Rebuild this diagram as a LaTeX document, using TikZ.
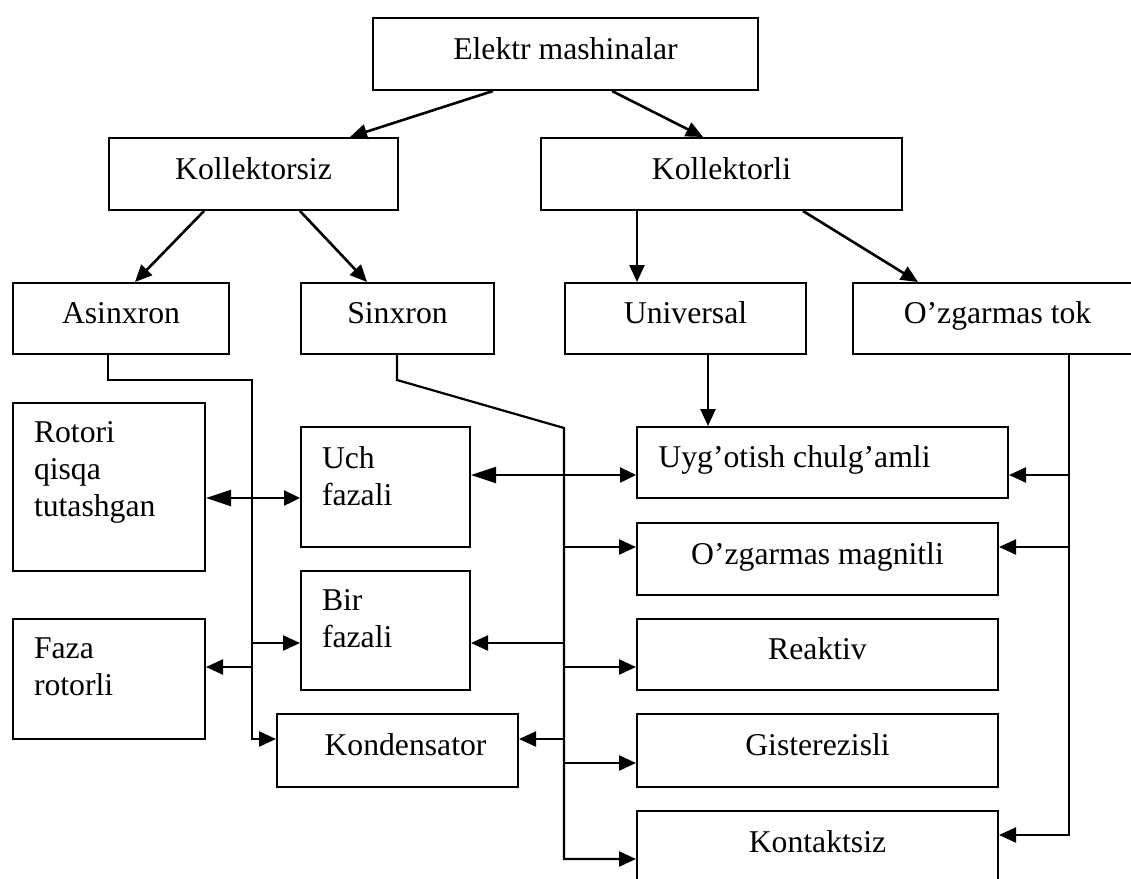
\documentclass[tikz,border=0pt]{standalone}
\usepackage{fontspec}
\setmainfont{Liberation Serif}
\usetikzlibrary{arrows.meta}
\tikzset{
  box/.style={draw, line width=2pt, inner sep=0pt, anchor=north west, text height=21pt, text depth=11pt},
  tallbox/.style={draw, line width=2pt, inner xsep=21pt, inner ysep=19pt, anchor=north west},
  wire/.style={line width=2.2pt},
  fork/.style={line width=2.6pt, ->},
  twoway/.style={line width=2.4pt, {Triangle[length=25pt,width=16pt]}-{Triangle[length=16pt,width=15pt]}}
}

\begin{document}
\begin{tikzpicture}[x=1pt, y=-1pt, >={Triangle[length=17pt,width=15pt]}, font=\fontsize{31.7}{37}\selectfont]
  \useasboundingbox (0,0) rectangle (1131,878);

  % upper levels
  \node[box, minimum width=385pt, minimum height=72pt] (elektr) at (372,17) {Elektr mashinalar};
  \node[box, minimum width=289pt, minimum height=72pt] (kolsiz) at (108,137) {Kollektorsiz};
  \node[box, minimum width=361pt, minimum height=72pt] (kolli) at (540,137) {Kollektorli};
  \node[box, minimum width=216pt, minimum height=71pt] (asinx) at (12,282) {Asinxron};
  \node[box, minimum width=193pt, minimum height=71pt] (sinx) at (300,282) {Sinxron};
  \node[box, minimum width=241pt, minimum height=71pt] (univ) at (564,282) {Universal};
  \node[box, minimum width=289pt, minimum height=71pt] (ozgtok) at (852,282) {O’zgarmas tok};

  % lower boxes
  \node[tallbox] (rotori) at (12,402) {\parbox[t][130pt][t]{150pt}{Rotori\\qisqa\\tutashgan}};
  \node[tallbox] (faza) at (12,618) {\parbox[t][82pt][t]{150pt}{Faza\\rotorli}};
  \node[tallbox] (uch) at (300,426) {\parbox[t][82pt][t]{127pt}{Uch\\fazali}};
  \node[tallbox] (bir) at (300,570) {\parbox[t][81pt][t]{127pt}{Bir\\fazali}};
  \node[box, minimum width=241pt, minimum height=73pt] (konden) at (276,713) {\hspace*{16pt}Kondensator};
  \node[box, minimum width=371pt, minimum height=71pt] (uyg) at (636,426) {Uyg’otish chulg’amli\hspace*{56pt}};
  \node[box, minimum width=361pt, minimum height=72pt] (ozgmag) at (636,522) {O’zgarmas magnitli};
  \node[box, minimum width=361pt, minimum height=71pt] (reaktiv) at (636,618) {Reaktiv};
  \node[box, minimum width=361pt, minimum height=73pt] (gist) at (636,713) {Gisterezisli};
  \node[box, minimum width=361pt, minimum height=72pt] (kontakt) at (636,810) {Kontaktsiz};

  % tree arrows
  \draw[fork] ([xshift=121pt]elektr.south west) -- ([xshift=242pt]kolsiz.north west);
  \draw[fork] ([xshift=240pt]elektr.south west) -- ([xshift=163pt]kolli.north west);
  \draw[fork] ([xshift=96pt]kolsiz.south west) -- ([xshift=123pt]asinx.north west);
  \draw[fork] ([xshift=192pt]kolsiz.south west) -- ([xshift=67pt]sinx.north west);
  \draw[fork] ([xshift=97pt]kolli.south west) -- ([xshift=73pt]univ.north west);
  \draw[fork] ([xshift=263pt]kolli.south west) -- ([xshift=66pt]ozgtok.north west);
  \draw[fork] ([xshift=144pt]univ.south west) -- ([xshift=72pt]uyg.north west);

  % Asinxron
  \coordinate (abus) at ([xshift=240pt, yshift=-25pt]asinx.south west);
  \draw[wire, ->] ([xshift=96pt]asinx.south west) |- (abus) |- ([yshift=11.5pt]konden.west);
  \draw[twoway] ([yshift=-11pt]rotori.east) -- ([yshift=-11pt]uch.west);
  \draw[wire, <-] ([yshift=-12.5pt]bir.west) -| (abus);
  \draw[wire, <-] ([yshift=12pt]faza.east) -| (abus);

  % Sinxron
  \coordinate (sbus) at ([xshift=264pt, yshift=-73pt]sinx.south west);
  \draw[wire, ->] ([xshift=97pt]sinx.south west) -- ++(0,25) -- (sbus) |- ([yshift=-12pt]kontakt.west);
  \draw[twoway] ([yshift=12pt]uch.east) -- ([yshift=-12.5pt]uyg.west);
  \draw[wire, <-] ([yshift=12pt]ozgmag.west) -| (sbus);
  \draw[wire, <-] ([yshift=-12.5pt]reaktiv.west) -| (sbus);
  \draw[wire, <-] ([yshift=-12.5pt]gist.west) -| (sbus);
  \draw[wire, <-] ([yshift=-12.5pt]bir.east) -| (sbus);
  \draw[wire, <-] ([yshift=11.5pt]konden.east) -| (sbus);

  % O'zgarmas tok
  \coordinate (obus) at ([xshift=217pt]ozgtok.south west);
  \draw[wire, ->] (obus) |- ([yshift=12pt]kontakt.east);
  \draw[wire, <-] ([yshift=-12.5pt]uyg.east) -| (obus);
  \draw[wire, <-] ([yshift=12pt]ozgmag.east) -| (obus);
\end{tikzpicture}
\end{document}
